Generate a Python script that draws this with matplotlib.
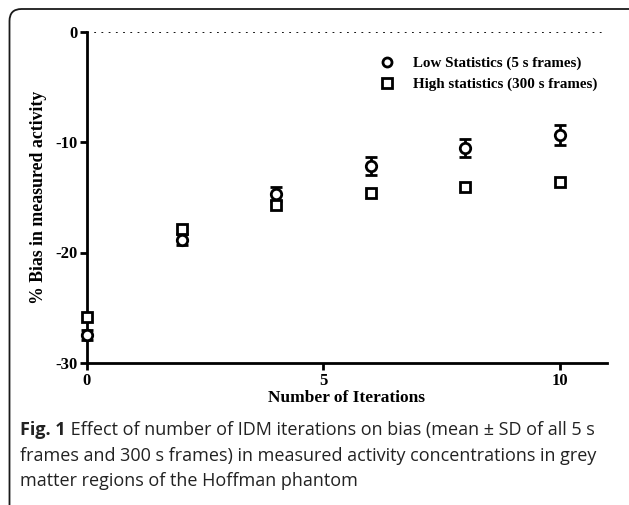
import matplotlib
matplotlib.use("Agg")
import matplotlib.pyplot as plt
from matplotlib.patches import FancyBboxPatch
from matplotlib.lines import Line2D

# data
iterations = [0, 2, 4, 6, 8, 10]
low_mean = [-27.5, -18.85, -14.7, -12.2, -10.55, -9.35]
low_sd = [0.45, 0.5, 0.6, 0.8, 0.85, 0.9]
high_mean = [-25.8, -17.9, -15.7, -14.65, -14.05, -13.65]
legend_labels = ["Low Statistics (5 s frames)", "High statistics (300 s frames)"]
caption_bold = "Fig. 1"
caption_lines = [" Effect of number of IDM iterations on bias (mean \u00b1 SD of all 5 s",
                 "frames and 300 s frames) in measured activity concentrations in grey",
                 "matter regions of the Hoffman phantom"]

plt.rcParams["axes.unicode_minus"] = False

W, H = 629, 505
fig = plt.figure(figsize=(W / 100, H / 100), dpi=100)

serif = ["Liberation Serif", "DejaVu Serif"]
sans = ["Open Sans", "DejaVu Sans"]

# rounded outer frame (open to the right and bottom edges)
frame = FancyBboxPatch((9.5 / 100, -0.3), 7.5, (H - 9) / 100 + 0.3,
                       boxstyle="round,pad=0,rounding_size=0.12",
                       transform=fig.dpi_scale_trans, fill=False,
                       edgecolor="#1a1a1a", linewidth=1.3, clip_on=False)
fig.patches.append(frame)

ax = fig.add_axes([87 / W, 142 / H, 520 / W, 331.5 / H])
ax.set_xlim(0, 11)
ax.set_ylim(-30, 0)

ax.errorbar(iterations, low_mean, yerr=low_sd, fmt="o", ms=7.5, mfc="white",
            mec="black", mew=2, ecolor="black", elinewidth=2, capsize=4,
            capthick=2, clip_on=False, zorder=3)
ax.plot(iterations, high_mean, "s", ms=7.5, mfc="white", mec="black", mew=2,
        clip_on=False, zorder=4)

ax.axhline(0, color="black", linestyle=(0, (1, 3)), linewidth=1.3, zorder=1)

for s in ["top", "right"]:
    ax.spines[s].set_visible(False)
for s in ["left", "bottom"]:
    ax.spines[s].set_linewidth(2)

ax.set_xticks([0, 5, 10])
ax.set_yticks([-30, -20, -10, 0])
ax.tick_params(width=2, length=5, labelsize=12, pad=2)
for lab in ax.get_xticklabels() + ax.get_yticklabels():
    lab.set_family(serif)
    lab.set_fontweight("bold")

ax.set_xlabel("Number of Iterations", family=serif, fontweight="bold",
              fontsize=12.5, labelpad=1)
ax.set_ylabel("% Bias in measured activity", family=serif, fontweight="bold",
              fontsize=12.8, labelpad=6)

handles = [Line2D([], [], ls="none", marker="o", ms=6.5, mfc="white",
                  mec="black", mew=2),
           Line2D([], [], ls="none", marker="s", ms=6.5, mfc="white",
                  mec="black", mew=2)]
leg = ax.legend(handles, legend_labels, loc="upper right",
                bbox_to_anchor=(1.008, 0.965), frameon=False,
                prop={"family": serif, "weight": "bold", "size": 10.8},
                handletextpad=1.25, labelspacing=0.5, handlelength=1.0)

# caption
y1 = 1 - 435 / H
t1 = fig.text(20 / W, y1, caption_bold, family=sans, fontweight="bold",
              fontsize=13, va="baseline", color="#222222")
ax.annotate(caption_lines[0], xy=(1, 0), xycoords=t1, va="bottom", ha="left",
            family=sans, fontsize=13, color="#222222", annotation_clip=False)
for i, line in enumerate(caption_lines[1:]):
    fig.text(20 / W, 1 - (461 + 25.5 * i) / H, line, family=sans,
             fontsize=13, va="baseline", color="#222222")

fig.savefig("out.png", dpi=100)
